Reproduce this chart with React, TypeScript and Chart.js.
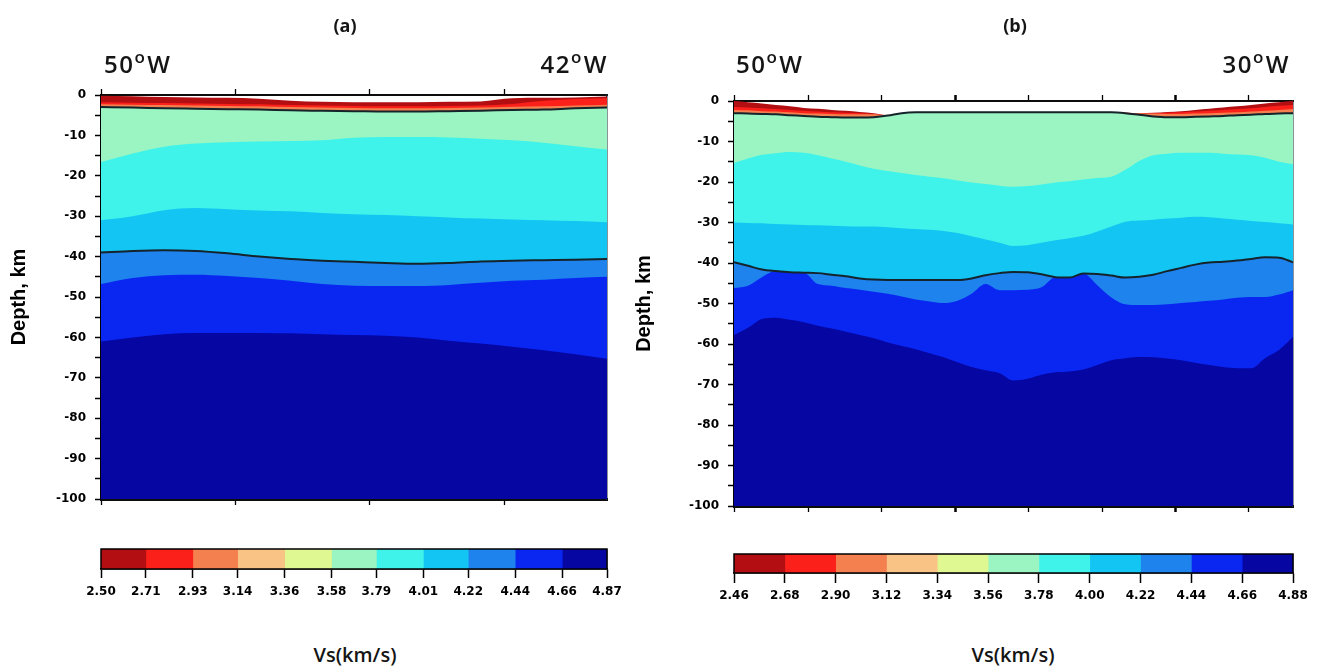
import React, { useEffect, useRef } from 'react';
import { Chart, registerables } from 'chart.js';

Chart.register(...registerables);

// ---------- colour classes of Vs (slow -> fast) ----------
const binColors = ['#b30f12', '#fb211a', '#f47f4f', '#f8c384', '#dff891', '#9af5c2', '#40f3ea', '#13c5f2', '#1f83ee', '#0a27f2', '#0606a2'];

// ---------- colour bar tick labels ----------
const vsTicksA = [2.50, 2.71, 2.93, 3.14, 3.36, 3.58, 3.79, 4.01, 4.22, 4.44, 4.66, 4.87];
const vsTicksB = [2.46, 2.68, 2.90, 3.12, 3.34, 3.56, 3.78, 4.00, 4.22, 4.44, 4.66, 4.88];

// ---------- texts ----------
const panelTitles = ['(a)', '(b)'];
const lonEndsA = ['50', '42'];
const lonEndsB = ['50', '30'];
const depthTitle = 'Depth, km';
const cbTitle = 'Vs(km/s)';

// ---------- panel (a): 50W -> 42W ----------
const lonA = [-50, -49.5, -49, -48.5, -48, -47.5, -47, -46.5, -46, -45.5, -45, -44.5, -44, -43.5, -43, -42.5, -42];
const xTicksA = [-50, -47.88, -45.75, -43.62];
const surfaceA = [-0.2, -0.3, -0.5, -0.6, -0.7, -0.9, -1.4, -1.7, -1.8, -1.8, -1.8, -1.7, -1.6, -0.8, -0.7, -0.6, -0.4];
const sed2TopA = [-1.8, -1.9, -2.0, -2.1, -2.2, -2.3, -2.5, -2.6, -2.7, -2.8, -2.8, -2.7, -2.6, -2.2, -1.4, -1.0, -0.8];
const sed3TopA = [-2.3, -2.4, -2.5, -2.6, -2.7, -2.8, -3.0, -3.1, -3.2, -3.3, -3.3, -3.2, -3.1, -2.9, -2.8, -2.6, -2.4];
const sedBaseA = [-3.0, -3.1, -3.3, -3.4, -3.5, -3.6, -3.8, -3.9, -4.0, -4.1, -4.1, -4.0, -3.9, -3.7, -3.6, -3.3, -3.1];
const cyanTopA = [-16.6, -14.5, -12.8, -12.0, -11.7, -11.5, -11.4, -11.2, -10.6, -10.4, -10.4, -10.5, -10.8, -11.2, -11.8, -12.7, -13.5];
const lightBlueTopA = [-31.0, -30.0, -28.5, -28.0, -28.3, -28.6, -28.8, -29.2, -29.5, -29.7, -30.0, -30.3, -30.6, -30.8, -31.0, -31.2, -31.5];
const mohoA = [-39.0, -38.6, -38.4, -38.6, -39.2, -40.0, -40.6, -41.0, -41.3, -41.6, -41.8, -41.6, -41.2, -41.0, -40.9, -40.8, -40.6];
const blueTopA = [-46.8, -45.3, -44.6, -44.5, -44.8, -45.3, -46.0, -46.8, -47.2, -47.3, -47.3, -47.0, -46.5, -46.0, -45.7, -45.3, -45.0];
const navyTopA = [-61.0, -60.0, -59.2, -58.9, -58.9, -58.9, -59.0, -59.2, -59.4, -59.6, -60.0, -60.8, -61.5, -62.3, -63.2, -64.2, -65.3];

// ---------- panel (b): 50W -> 30W ----------
const lonB = [-50, -49.5, -49, -48.5, -48, -47.5, -47, -46.5, -46, -45.5, -45, -44.5, -44, -43.5, -43, -42.5, -42, -41.5, -41, -40.5, -40,
  -39.5, -39, -38.5, -38, -37.5, -37, -36.5, -36, -35.5, -35, -34.5, -34, -33.5, -33, -32.5, -32, -31.5, -31, -30.5, -30];
const xTicksB = [-50, -47.35, -44.74, -42.09, -39.48, -36.83, -34.22, -31.61];
const surfaceB = [0, -0.3, -0.6, -1.0, -1.3, -1.7, -1.9, -2.2, -2.4, -2.7, -3.0, -3.5, -3.0, -2.8, -2.8, -2.8, -2.8, -2.8, -2.8, -2.8, -2.8,
  -2.8, -2.8, -2.8, -2.8, -2.8, -2.8, -2.8, -2.9, -3.0, -2.9, -2.7, -2.5, -2.2, -1.9, -1.6, -1.3, -1.0, -0.6, -0.3, 0];
const sed2TopB = [-1.5, -1.6, -1.8, -2.0, -2.2, -2.4, -2.6, -2.8, -2.9, -3.0, -3.2, -3.5, -3.0, -2.8, -2.8, -2.8, -2.8, -2.8, -2.8, -2.8, -2.8,
  -2.8, -2.8, -2.8, -2.8, -2.8, -2.8, -2.8, -2.9, -3.0, -3.0, -2.9, -2.8, -2.6, -2.4, -2.2, -2.0, -1.8, -1.5, -1.2, -1.0];
const sed3TopB = [-2.2, -2.3, -2.5, -2.6, -2.8, -3.0, -3.1, -3.2, -3.3, -3.3, -3.3, -3.5, -3.0, -2.8, -2.8, -2.8, -2.8, -2.8, -2.8, -2.8, -2.8,
  -2.8, -2.8, -2.8, -2.8, -2.8, -2.8, -2.8, -2.9, -3.0, -3.1, -3.2, -3.2, -3.1, -3.0, -2.9, -2.8, -2.6, -2.4, -2.2, -2.0];
const sedBaseB = [-3.0, -3.1, -3.2, -3.3, -3.5, -3.7, -3.9, -4.0, -4.1, -4.1, -4.0, -3.6, -3.0, -2.8, -2.8, -2.8, -2.8, -2.8, -2.8, -2.8, -2.8,
  -2.8, -2.8, -2.8, -2.8, -2.8, -2.8, -2.8, -3.0, -3.4, -3.8, -4.0, -4.0, -3.9, -3.8, -3.7, -3.5, -3.4, -3.2, -3.1, -3.0];
const cyanTopB = [-15.3, -14.2, -13.3, -12.9, -12.6, -12.8, -13.4, -14.2, -15.0, -15.9, -16.7, -17.3, -17.8, -18.3, -18.7, -19.1, -19.6, -20.1, -20.5, -20.9, -21.2,
  -21.0, -20.6, -20.1, -19.8, -19.4, -19.0, -18.7, -17.0, -14.8, -13.4, -13.0, -12.8, -12.8, -12.8, -13.0, -13.2, -13.4, -14.0, -15.0, -15.6];
const lightBlueTopB = [-30.0, -30.1, -30.2, -30.4, -30.5, -30.6, -30.7, -30.8, -30.9, -31.0, -31.0, -31.2, -31.4, -31.6, -31.8, -32.1, -32.6, -33.4, -34.2, -35.0, -35.8,
  -35.6, -35.0, -34.4, -33.9, -33.3, -32.2, -31.0, -29.8, -29.5, -29.3, -29.0, -28.8, -28.6, -28.7, -29.0, -29.3, -29.6, -29.9, -30.2, -30.5];
const mohoB = [-39.8, -40.7, -41.6, -42.0, -42.3, -42.4, -42.5, -42.9, -43.3, -43.8, -44.1, -44.2, -44.2, -44.2, -44.2, -44.2, -44.2, -43.8, -43.0, -42.5, -42.2,
  -42.3, -42.8, -43.5, -43.6, -42.6, -42.7, -43.1, -43.6, -43.4, -42.9, -42.0, -41.2, -40.4, -39.9, -39.7, -39.4, -39.0, -38.6, -38.7, -39.8];
const blueTopB = [-46.2, -45.6, -43.5, -42.0, -42.3, -42.4, -45.2, -45.6, -46.2, -46.6, -47.1, -47.6, -48.3, -49.0, -49.5, -49.9, -49.3, -47.6, -45.2, -46.7, -46.7,
  -46.6, -46.0, -43.5, -43.6, -42.6, -45.5, -48.5, -50.2, -50.4, -50.4, -50.2, -49.9, -49.6, -49.3, -49.0, -48.6, -48.4, -48.4, -47.8, -46.7];
const navyTopB = [-57.8, -56.0, -53.8, -53.5, -54.0, -54.6, -55.5, -56.2, -57.0, -57.8, -58.6, -59.6, -60.5, -61.3, -62.3, -63.3, -64.5, -65.7, -66.5, -67.2, -69.0,
  -68.6, -67.6, -67.0, -66.8, -66.3, -65.2, -64.0, -63.5, -63.2, -63.3, -63.6, -64.0, -64.6, -65.2, -65.7, -66.0, -66.0, -63.5, -61.5, -58.3];

type Layer = { depth: number[]; color: string; contour?: boolean };

// deepest first: later datasets' fills are painted first, so deeper layers cover shallower ones
const layersA: Layer[] = [
  { depth: navyTopA, color: binColors[10] },
  { depth: blueTopA, color: binColors[9] },
  { depth: mohoA, color: binColors[8], contour: true },
  { depth: lightBlueTopA, color: binColors[7] },
  { depth: cyanTopA, color: binColors[6] },
  { depth: sedBaseA, color: binColors[5], contour: true },
  { depth: sed3TopA, color: binColors[2] },
  { depth: sed2TopA, color: binColors[1] },
  { depth: surfaceA, color: binColors[0] },
];
const layersB: Layer[] = [
  { depth: navyTopB, color: binColors[10] },
  { depth: blueTopB, color: binColors[9] },
  { depth: mohoB, color: binColors[8], contour: true },
  { depth: lightBlueTopB, color: binColors[7] },
  { depth: cyanTopB, color: binColors[6] },
  { depth: sedBaseB, color: binColors[5], contour: true },
  { depth: sed3TopB, color: binColors[2] },
  { depth: sed2TopB, color: binColors[1] },
  { depth: surfaceB, color: binColors[0] },
];

const TICK_FONT = { family: '"DejaVu Sans", sans-serif', size: 12, weight: 'bold' as const };

type SecGeom = { left: number; top: number; bottom: number; right: number };

function sectionConfig(lon: number[], layers: Layer[], xTicks: number[], major: number[], g: SecGeom): any {
  const xCommon = (pos: string, height: number, borderW: number) => ({
    type: 'linear',
    axis: 'x',
    position: pos,
    min: lon[0],
    max: lon[lon.length - 1],
    afterBuildTicks: (s: any) => {
      s.ticks = xTicks.map((v) => ({ value: v }));
    },
    ticks: { display: false },
    grid: {
      drawOnChartArea: false,
      tickLength: 6,
      tickColor: '#000',
      tickWidth: (ctx: any) => (major.includes(ctx.index) ? 2.5 : 1.3),
    },
    border: { display: true, color: '#0c0c0c', width: borderW },
    afterFit: (s: any) => {
      s.height = height;
    },
  });
  return {
    type: 'line',
    data: {
      datasets: layers.map((l) => ({
        data: lon.map((x, i) => ({ x, y: l.depth[i] })),
        backgroundColor: l.color,
        borderColor: l.contour ? '#15232b' : 'rgba(0,0,0,0)',
        borderWidth: l.contour ? 2 : 0,
        fill: 'start',
        pointRadius: 0,
        pointHoverRadius: 0,
        cubicInterpolationMode: 'monotone',
      })),
    },
    options: {
      animation: false,
      responsive: false,
      events: [],
      layout: { padding: 0, autoPadding: false },
      plugins: {
        legend: { display: false },
        tooltip: { enabled: false },
        filler: { drawTime: 'beforeDatasetsDraw' },
      },
      scales: {
        x: xCommon('bottom', g.bottom, 3),
        xTop: xCommon('top', g.top, 2),
        y: {
          type: 'linear',
          position: 'left',
          min: -100,
          max: 0,
          ticks: {
            stepSize: 5,
            autoSkip: false,
            font: TICK_FONT,
            color: '#000',
            padding: 9,
            callback: (v: number) => (v % 10 === 0 ? String(v) : ''),
          },
          grid: { drawOnChartArea: false, tickLength: 6, tickColor: '#000', tickWidth: 1.5 },
          border: { display: true, color: '#000', width: 2 },
          title: {
            display: true,
            text: depthTitle,
            color: '#000',
            font: { family: '"Liberation Sans", Arial, sans-serif', size: 20, weight: 'bold' },
            padding: { top: 7, bottom: 0 },
          },
          afterFit: (s: any) => {
            s.width = g.left;
          },
        },
        yR: {
          type: 'linear',
          axis: 'y',
          position: 'right',
          min: -100,
          max: 0,
          ticks: { display: false },
          grid: { display: false },
          border: { display: true, color: '#1a2830', width: 1.5 },
          afterFit: (s: any) => {
            s.width = g.right;
          },
        },
      },
    },
  };
}

const framePlugin = {
  id: 'frame',
  afterDraw(chart: any) {
    const { ctx, chartArea: a } = chart;
    ctx.save();
    ctx.strokeStyle = '#000';
    ctx.lineWidth = 1.5;
    ctx.strokeRect(a.left, a.top, a.right - a.left, a.bottom - a.top);
    ctx.restore();
  },
};

type CbGeom = { left: number; right: number; top: number; axisH: number; tickLen: number; labelPad: number };

function colorbarConfig(ticks: number[], g: CbGeom): any {
  return {
    type: 'bar',
    data: {
      labels: ['Vs'],
      datasets: ticks.slice(0, -1).map((lo, i) => ({
        data: [[lo, ticks[i + 1]]],
        backgroundColor: binColors[i],
        borderWidth: 0,
        barPercentage: 1,
        categoryPercentage: 1,
        grouped: false,
      })),
    },
    options: {
      indexAxis: 'y',
      animation: false,
      responsive: false,
      events: [],
      layout: { padding: { left: g.left, right: g.right, top: g.top, bottom: 0 }, autoPadding: false },
      plugins: { legend: { display: false }, tooltip: { enabled: false } },
      scales: {
        x: {
          type: 'linear',
          min: ticks[0],
          max: ticks[ticks.length - 1],
          z: 1,
          afterBuildTicks: (s: any) => {
            s.ticks = ticks.map((v) => ({ value: v }));
          },
          ticks: {
            autoSkip: false,
            maxRotation: 0,
            font: TICK_FONT,
            color: '#000',
            padding: g.labelPad,
            callback: (v: number) => Number(v).toFixed(2),
          },
          grid: {
            drawOnChartArea: true,
            color: 'rgba(40,40,40,0.4)',
            lineWidth: 1,
            tickLength: g.tickLen,
            tickColor: '#000',
            tickWidth: 1.5,
          },
          border: { display: true, color: '#000', width: 1.5 },
          afterFit: (s: any) => {
            s.height = g.axisH;
          },
        },
        y: { display: false },
      },
    },
    plugins: [framePlugin],
  };
}

function ChartCanvas({ config, left, top, width, height }: { config: any; left: number; top: number; width: number; height: number }) {
  const ref = useRef<HTMLCanvasElement | null>(null);
  useEffect(() => {
    if (!ref.current) return;
    const chart = new Chart(ref.current, config);
    return () => chart.destroy();
  }, []);
  return (
    <canvas
      ref={ref}
      width={width}
      height={height}
      style={{ position: 'absolute', left, top, width, height }}
    />
  );
}

const textFont = '"Open Sans", "Liberation Sans", sans-serif';

function LonLabel({ deg, style }: { deg: string; style: React.CSSProperties }) {
  return (
    <div
      style={{
        position: 'absolute',
        top: 52,
        fontFamily: textFont,
        fontWeight: 600,
        fontSize: 24,
        lineHeight: '24px',
        letterSpacing: 1.5,
        color: '#151515',
        whiteSpace: 'nowrap',
        ...style,
      }}
    >
      {deg}
      <span style={{ fontSize: 17, position: 'relative', top: -10, margin: '0 1px 0 0' }}>o</span>W
    </div>
  );
}

function CenterText({ text, cx, top, size, weight }: { text: string; cx: number; top: number; size: number; weight: number }) {
  return (
    <div
      style={{
        position: 'absolute',
        left: cx - 100,
        width: 200,
        top,
        textAlign: 'center',
        fontFamily: textFont,
        fontWeight: weight,
        fontSize: size,
        lineHeight: `${size + 6}px`,
        color: '#151515',
        whiteSpace: 'nowrap',
      }}
    >
      {text}
    </div>
  );
}

export default function App() {
  const cfgA = sectionConfig(lonA, layersA, xTicksA, [], { left: 101, top: 95, bottom: 31, right: 33 });
  const cfgB = sectionConfig(lonB, layersB, xTicksB, [3, 6], { left: 109, top: 101, bottom: 24, right: 12 });
  const cbA = colorbarConfig(vsTicksA, { left: 61, right: 43, top: 19, axisH: 41, tickLen: 9, labelPad: 7 });
  const cbB = colorbarConfig(vsTicksB, { left: 54, right: 27, top: 24, axisH: 37, tickLen: 10, labelPad: 6 });

  return (
    <div
      style={{
        position: 'fixed',
        left: 0,
        top: 0,
        width: 1328,
        height: 672,
        background: '#fff',
        overflow: 'hidden',
      }}
    >
      <ChartCanvas config={cfgA} left={0} top={0} width={640} height={530} />
      <ChartCanvas config={cfgB} left={625} top={0} width={680} height={530} />
      <ChartCanvas config={cbA} left={40} top={530} width={610} height={80} />
      <ChartCanvas config={cbB} left={680} top={530} width={640} height={80} />

      <CenterText text={panelTitles[0]} cx={345} top={13} size={18} weight={700} />
      <CenterText text={panelTitles[1]} cx={1015} top={13} size={18} weight={700} />

      <LonLabel deg={lonEndsA[0]} style={{ left: 104 }} />
      <LonLabel deg={lonEndsA[1]} style={{ right: 1328 - 608 }} />
      <LonLabel deg={lonEndsB[0]} style={{ left: 736 }} />
      <LonLabel deg={lonEndsB[1]} style={{ right: 1328 - 1290 }} />

      <CenterText text={cbTitle} cx={355} top={642} size={20} weight={600} />
      <CenterText text={cbTitle} cx={1013} top={642} size={20} weight={600} />
    </div>
  );
}
